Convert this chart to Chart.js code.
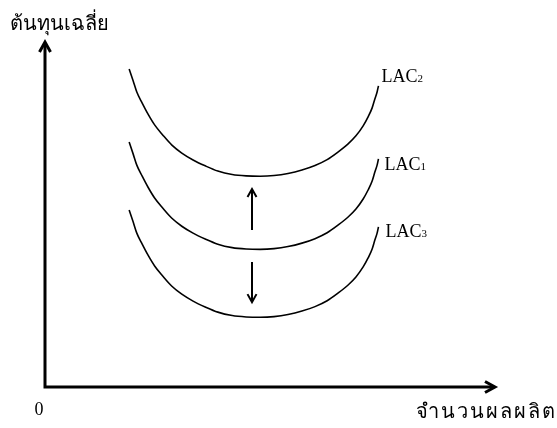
<!DOCTYPE html>
<html>
<head>
<meta charset="utf-8">
<script src="https://cdn.jsdelivr.net/npm/chart.js@4.4.0/dist/chart.umd.min.js"></script>
<style>
html,body{margin:0;padding:0;background:#fff;}
#wrap{width:557px;height:428px;position:relative;}
</style>
</head>
<body>
<div id="wrap"><canvas id="c" width="557" height="428"></canvas></div>
<script>
// Output quantity (x) sampled along each curve
const quantity = [18.7, 19.6, 20.4, 21.6, 22.9, 24.4, 26.2, 28.2, 30.4, 32.9, 35.6, 38.4, 41.6, 44.7, 47.8,
                  50.9, 54.0, 57.1, 60.0, 62.7, 65.1, 67.3, 69.1, 70.7, 71.8, 72.7, 73.3, 73.8, 74.1];
// Long-run average cost curves
const lac2 = [92.2, 88.7, 85.5, 82.3, 79.1, 75.9, 73.0, 70.1, 67.8, 65.8, 64.1, 62.6, 61.6, 61.2, 61.1,
              61.3, 61.9, 62.9, 64.2, 65.9, 68.1, 70.4, 72.8, 75.7, 78.3, 80.9, 83.5, 85.5, 87.3];
const lac1 = [71.0, 67.5, 64.3, 61.1, 57.9, 54.7, 51.8, 48.9, 46.6, 44.6, 42.9, 41.4, 40.4, 40.0, 39.9,
              40.1, 40.7, 41.7, 43.0, 44.7, 46.9, 49.2, 51.6, 54.5, 57.1, 59.7, 62.3, 64.3, 66.1];
const lac3 = [51.3, 47.8, 44.6, 41.4, 38.2, 35.0, 32.1, 29.2, 26.9, 24.9, 23.2, 21.7, 20.7, 20.3, 20.2,
              20.4, 21.0, 22.0, 23.3, 25.0, 27.2, 29.5, 31.9, 34.8, 37.4, 40.0, 42.6, 44.6, 46.4];
const curveNames = ['LAC2', 'LAC1', 'LAC3'];
// Shift arrows: [x, fromY, toY]
const shiftUp = [46.0, 45.5, 57.4];
const shiftDown = [46.0, 36.2, 24.6];
const yTitle = 'ต้นทุนเฉลี่ย';
const xTitle = 'จำนวนผลผลิต';
const originLabel = '0';

function pts(ys){ return quantity.map((q,i)=>({x:q,y:ys[i]})); }

function arrowHead(ctx, x, y, dx, dy, len, half){
  const px = -dy, py = dx;
  ctx.beginPath();
  ctx.moveTo(x - dx*len + px*half, y - dy*len + py*half);
  ctx.lineTo(x, y);
  ctx.lineTo(x - dx*len - px*half, y - dy*len - py*half);
  ctx.stroke();
}

const decor = {
  id: 'decor',
  afterDatasetsDraw(chart){
    const ctx = chart.ctx;
    const xs = chart.scales.x, ys = chart.scales.y;
    const X = v => xs.getPixelForValue(v), Y = v => ys.getPixelForValue(v);
    ctx.save();
    ctx.strokeStyle = '#000';
    ctx.lineCap = 'butt';
    ctx.lineJoin = 'miter';
    // axes
    ctx.lineWidth = 3;
    ctx.beginPath();
    ctx.moveTo(X(0), Y(0) + 1.5);
    ctx.lineTo(X(0), Y(100) + 2);
    ctx.moveTo(X(0) - 1.5, Y(0));
    ctx.lineTo(X(100) - 2, Y(0));
    ctx.stroke();
    arrowHead(ctx, X(0), Y(100), 0, -1, 10, 5.5);
    arrowHead(ctx, X(100), Y(0), 1, 0, 10, 5.5);
    // shift arrows
    ctx.lineWidth = 2;
    [shiftUp, shiftDown].forEach(a => {
      const x = X(a[0]), y0 = Y(a[1]), y1 = Y(a[2]);
      const dir = y1 < y0 ? -1 : 1;
      ctx.beginPath();
      ctx.moveTo(x, y0);
      ctx.lineTo(x, y1 - dir*1);
      ctx.stroke();
      arrowHead(ctx, x, y1, 0, dir, 8, 4.5);
    });
    // texts
    ctx.fillStyle = '#000';
    ctx.textBaseline = 'alphabetic';
    ctx.textAlign = 'left';
    ctx.font = '20px "Liberation Serif", "DejaVu Serif", serif';
    ctx.fillText(yTitle, 10, 30);
    ctx.textAlign = 'right';
    ctx.letterSpacing = '2px';
    ctx.fillText(xTitle, 557, 418);
    ctx.letterSpacing = '0px';
    ctx.textAlign = 'center';
    ctx.font = '18px "Liberation Serif", serif';
    ctx.fillText(originLabel, 39, 415);
    // curve labels near right ends
    ctx.textAlign = 'left';
    const series = [lac2, lac1, lac3];
    const dx = [3, 6, 7];
    const dy = [-4, 11, 10];
    series.forEach((s, i) => {
      const ex = X(quantity[quantity.length-1]) + dx[i];
      const ey = Y(s[s.length-1]) + dy[i];
      const name = curveNames[i];
      const main = name.slice(0,3), sub = name.slice(3);
      ctx.font = '18px "Liberation Serif", serif';
      ctx.fillText(main, ex, ey);
      const w = ctx.measureText(main).width;
      ctx.font = '11px "Liberation Serif", serif';
      ctx.fillText(sub, ex + w, ey);
    });
    ctx.restore();
  }
};

const lineStyle = {
  borderColor: '#000',
  borderWidth: 1.6,
  pointRadius: 0,
  showLine: true,
  fill: false,
  cubicInterpolationMode: 'monotone'
};

new Chart(document.getElementById('c'), {
  type: 'scatter',
  data: {
    datasets: [
      Object.assign({label: curveNames[0], data: pts(lac2)}, lineStyle),
      Object.assign({label: curveNames[1], data: pts(lac1)}, lineStyle),
      Object.assign({label: curveNames[2], data: pts(lac3)}, lineStyle)
    ]
  },
  options: {
    responsive: false,
    animation: false,
    devicePixelRatio: 1,
    layout: { padding: { left: 45, top: 42, right: 62, bottom: 41 } },
    plugins: { legend: { display: false }, tooltip: { enabled: false } },
    scales: {
      x: { type: 'linear', display: false, min: 0, max: 100 },
      y: { type: 'linear', display: false, min: 0, max: 100 }
    }
  },
  plugins: [decor]
});
</script>
</body>
</html>
